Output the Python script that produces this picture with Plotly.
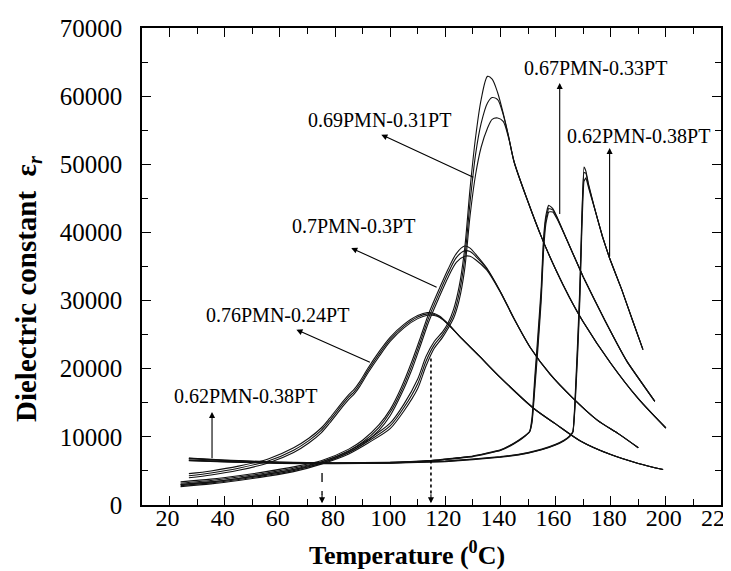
import plotly.graph_objects as go

# ---------------- data ----------------
# 0.76PMN-0.24PT (three measuring frequencies)
T76 = [27, 35, 45, 56, 65, 70.5, 75, 78, 82.5, 85, 87, 89, 92, 96, 100, 105, 110, 113.5,
       116, 118, 121, 126, 132, 140, 152, 160, 169, 180, 190, 199]
E76_a = [4600, 5000, 5700, 6800, 8400, 9800, 11300, 12700, 15000, 16200, 17000, 18100, 20100,
         22500, 24600, 26500, 27800, 28250, 28100, 27700, 26600, 24400, 22000, 18700, 14200,
         11900, 9400, 7400, 6100, 5200]
E76_b = [4300, 4700, 5400, 6500, 8050, 9450, 10950, 12350, 14650, 15850, 16650, 17750, 19750,
         22150, 24300, 26250, 27600, 28050, 27950, 27600, 26550, 24400, 22000, 18700, 14200,
         11900, 9400, 7400, 6100, 5200]
E76_c = [4000, 4400, 5100, 6200, 7700, 9100, 10600, 12000, 14300, 15500, 16300, 17400, 19400,
         21800, 24000, 26000, 27350, 27850, 27800, 27500, 26500, 24400, 22000, 18700, 14200,
         11900, 9400, 7400, 6100, 5200]

# 0.7PMN-0.3PT
T70 = [24, 35, 45, 55, 65, 75, 85, 90, 96, 100, 104, 108, 111, 114, 118, 121, 124, 127, 129,
       131, 135, 140, 145, 151, 158, 166, 175, 183, 190]
E70_a = [3400, 3800, 4300, 4900, 5600, 6500, 8200, 9500, 11800, 14000, 17200, 21200, 24600,
         28100, 31900, 34600, 36900, 38000, 37700, 36800, 34800, 31300, 27300, 23000, 19200,
         15800, 12500, 10400, 8400]
E70_b = [3200, 3600, 4100, 4700, 5400, 6300, 7950, 9200, 11400, 13600, 16700, 20600, 24000,
         27500, 31300, 34000, 36300, 37300, 37200, 36500, 34700, 31300, 27300, 23000, 19200,
         15800, 12500, 10400, 8400]
E70_c = [3000, 3400, 3900, 4500, 5200, 6100, 7700, 8900, 11000, 13100, 16200, 20000, 23400,
         26900, 30700, 33400, 35600, 36500, 36500, 36000, 34500, 31200, 27300, 23000, 19200,
         15800, 12500, 10400, 8400]

# 0.69PMN-0.31PT
T69 = [24, 35, 45, 55, 65, 75, 85, 92, 100, 105, 110, 113, 116, 119, 121, 123, 125, 127, 129,
       131, 133, 135.3, 137, 139, 141, 143, 145, 150, 155, 160, 165, 170, 180, 190, 200]
E69_a = [3000, 3400, 3900, 4500, 5200, 6300, 7900, 9600, 12000, 14800, 18500, 21800, 24000,
         25400, 26700, 28700, 32000, 37500, 46500, 54000, 59500, 62900, 62500, 60500, 57500,
         54000, 50300, 44500, 39200, 34600, 30500, 26900, 20800, 15600, 11300]
E69_b = [2850, 3250, 3750, 4350, 5050, 6150, 7700, 9350, 11600, 14300, 17800, 21100, 23500,
         25000, 26300, 28000, 31000, 36000, 44500, 51500, 56000, 59000, 59800, 59500, 57300,
         54000, 50300, 44500, 39200, 34600, 30500, 26900, 20800, 15600, 11300]
E69_c = [2700, 3100, 3600, 4200, 4900, 6000, 7500, 9100, 11200, 13800, 17100, 20400, 23000,
         24600, 25900, 27400, 30000, 34500, 42500, 48500, 52500, 55300, 56600, 56800, 56300,
         53800, 50300, 44500, 39200, 34600, 30500, 26900, 20800, 15600, 11300]

# 0.67PMN-0.33PT
T67 = [27, 40, 60, 80, 100, 115, 130, 140, 145, 148, 150.6, 151.5, 152.5, 153.6, 154.8, 155.6,
       156.5, 157.5, 159, 160.5, 164, 170, 178, 186, 196]
E67_a = [6600, 6400, 6200, 6150, 6250, 6550, 7200, 8100, 9100, 9900, 10800, 13000, 19000,
         25000, 32000, 39000, 42500, 44000, 43500, 42300, 39000, 33500, 27000, 21000, 15200]
E67_b = [6550, 6350, 6150, 6100, 6200, 6500, 7150, 8050, 9050, 9850, 10800, 12500, 18000,
         24000, 31000, 38000, 42000, 43500, 43300, 42200, 39000, 33500, 27000, 21000, 15200]
E67_c = [6500, 6300, 6100, 6050, 6150, 6450, 7100, 8000, 9000, 9800, 10750, 12200, 17200,
         23000, 30000, 37000, 41300, 43000, 43000, 42000, 39000, 33500, 27000, 21000, 15200]

# 0.62PMN-0.38PT
T62 = [27, 40, 60, 80, 100, 120, 140, 150, 155, 160, 163, 165, 166.3, 167, 168, 168.8, 169.5,
       170.3, 171, 172, 174, 177, 179.6, 184, 188, 191.7]
E62_a = [6900, 6600, 6300, 6200, 6250, 6450, 7100, 7700, 8200, 8900, 9500, 10100, 10800,
         15000, 24000, 32000, 42000, 49600, 49000, 47000, 43800, 39400, 36200, 31600, 27000, 22800]
E62_b = [6850, 6550, 6250, 6150, 6200, 6400, 7050, 7650, 8150, 8850, 9450, 10050, 10750,
         14500, 23000, 31000, 41000, 48800, 48700, 46800, 43800, 39400, 36200, 31600, 27000, 22800]
E62_c = [6800, 6500, 6200, 6100, 6150, 6350, 7000, 7600, 8100, 8800, 9400, 10000, 10700,
         14000, 22000, 30000, 40000, 47500, 48000, 46500, 43700, 39400, 36200, 31600, 27000, 22800]

X_TICKS = [20, 40, 60, 80, 100, 120, 140, 160, 180, 200, 220]
Y_TICKS = [0, 10000, 20000, 30000, 40000, 50000, 60000, 70000]
Y_TICK_LABELS = ["0", "10000", "20000", "30000", "40000", "50000", "60000", "70000"]

# ---------------- figure ----------------
FONT = "Liberation Serif"
fig = go.Figure()

series = [
    (T76, [E76_a, E76_b, E76_c], 0.8),
    (T70, [E70_a, E70_b, E70_c], 0.8),
    (T69, [E69_a, E69_b, E69_c], 0.8),
    (T67, [E67_a, E67_b, E67_c], 0.3),
    (T62, [E62_a, E62_b, E62_c], 0.3),
]
for T, lines, sm in series:
    for E in lines:
        fig.add_trace(go.Scatter(x=T, y=E, mode="lines",
                                 line=dict(color="#111111", width=1.1, shape="spline", smoothing=sm),
                                 hoverinfo="skip", showlegend=False))

ann_font = dict(family=FONT, size=20, color="black")
texts = [
    ("0.69PMN-0.31PT", 96.1, 56500),
    ("0.7PMN-0.3PT", 86.7, 40900),
    ("0.76PMN-0.24PT", 59.3, 27900),
    ("0.62PMN-0.38PT", 47.5, 16000),
    ("0.67PMN-0.33PT", 174.5, 64100),
    ("0.62PMN-0.38PT", 189.9, 54150),
]
annotations = []
for t, x, y in texts:
    annotations.append(dict(text=t, x=x, y=y, xref="x", yref="y", showarrow=False,
                            font=ann_font, xanchor="center", yanchor="middle"))

arrows = [
    (96.8, 54340, 130.7, 47990),
    (85.9, 37720, 117.4, 31850),
    (66.0, 25730, 93.2, 20840),
    (35.4, 13650, 35.4, 6650),
    (161.5, 61930, 161.5, 42500),
    (179.6, 52390, 179.6, 36250),
    (75.3, 250, 75.3, 1800),
    (114.8, 250, 114.8, 1800),
]
for hx, hy, tx, ty in arrows:
    annotations.append(dict(text="", x=hx, y=hy, ax=tx, ay=ty, xref="x", yref="y",
                            axref="x", ayref="y", showarrow=True, arrowhead=2,
                            arrowsize=1.1, arrowwidth=1.1, arrowcolor="black", standoff=0,
                            startstandoff=0))

# plot area: 579 x 477 px
PW, PH = 579, 477
annotations.append(dict(text="<b>Temperature (<sup>0</sup>C)</b>", xref="paper", yref="paper",
                        x=(399 - 134) / PW, y=-48 / PH, showarrow=False,
                        font=dict(family=FONT, size=26, color="black"),
                        xanchor="center", yanchor="middle"))
annotations.append(dict(text="<b>Dielectric constant  ε<sub><i>r</i></sub></b>", xref="paper",
                        yref="paper", x=-114 / PW, y=(497 - 281) / PH, showarrow=False,
                        textangle=-90, font=dict(family=FONT, size=29, color="black"),
                        xanchor="center", yanchor="middle"))

shapes = [
    dict(type="line", xref="x", yref="y", x0=75.3, x1=75.3, y0=4700, y1=1500,
         line=dict(color="black", width=1.3, dash="dash")),
    dict(type="line", xref="x", yref="y", x0=114.8, x1=114.8, y0=21500, y1=1500,
         line=dict(color="black", width=1.6, dash="dot")),
]

axis_common = dict(showline=True, linecolor="black", linewidth=1.5, mirror="ticks",
                   ticks="inside", ticklen=9, tickwidth=1.3, tickcolor="black",
                   showgrid=False, zeroline=False, automargin=False)

L, T = 134, 20
fig.update_layout(
    width=731, height=571,
    margin=dict(l=L, r=731 - L - PW, t=T, b=571 - T - PH),
    paper_bgcolor="white", plot_bgcolor="white",
    font=dict(family=FONT, color="black"),
    xaxis=dict(range=[10, 220], tickmode="array", tickvals=X_TICKS, ticklabelstandoff=-10,
               ticklabelshift=-2, tickfont=dict(family=FONT, size=24, color="black"),
               minor=dict(tickmode="linear", tick0=0, dtick=10, ticks="inside", ticklen=6,
                          tickwidth=1.2, tickcolor="black"),
               **axis_common),
    yaxis=dict(range=[0, 70000], tickmode="array", tickvals=Y_TICKS, ticktext=Y_TICK_LABELS,
               ticklabelstandoff=13, tickfont=dict(family=FONT, size=25, color="black"),
               minor=dict(tickmode="linear", tick0=0, dtick=5000, ticks="inside", ticklen=6,
                          tickwidth=1.2, tickcolor="black"),
               **axis_common),
    annotations=annotations,
    shapes=shapes,
)

fig.write_html("out.html")
